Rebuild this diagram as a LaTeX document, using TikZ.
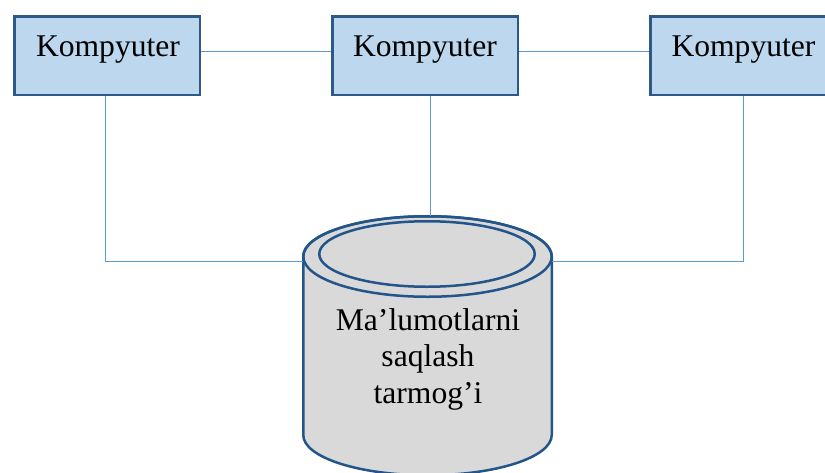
\documentclass[tikz,border=0pt]{standalone}
\usepackage{fontspec}
\setmainfont{Liberation Serif}
\definecolor{boxfill}{HTML}{BDD7EE}
\definecolor{boxline}{HTML}{2C5987}
\definecolor{canfill}{HTML}{D9D9D9}
\definecolor{canline}{HTML}{23558A}
\definecolor{wire}{HTML}{5B9BD5}
\tikzset{
  pcbox/.style={draw=boxline, fill=boxfill, line width=2.5pt, rectangle,
    minimum width=185.5pt, minimum height=78.5pt, inner sep=0pt},
  pclabel/.style={anchor=base, font=\fontsize{31.6pt}{36.5pt}\selectfont, inner sep=0pt},
  canedge/.style={draw=canline, line width=2.5pt},
  wireline/.style={draw=wire, line width=1pt}
}
\begin{document}
\begin{tikzpicture}[x=1pt, y=-1pt]
  \path[use as bounding box, clip] (0,0) rectangle (825,472);

  % computers
  \node[pcbox] (k1) at (107,55.5) {};
  \node[pcbox] (k2) at (425,55.5) {};
  \node[pcbox] (k3) at (743,55.5) {};
  \node[pclabel] (t1) at (108,56) {Kompyuter};
  \node[pclabel] (t2) at (425,56) {Kompyuter};
  \node[pclabel] (t3) at (743.5,56) {Kompyuter};

  % storage cylinder
  \path[fill=canfill, canedge] (303.25,256.5) -- (303.25,435)
    arc[start angle=180, end angle=360, x radius=124.25pt, y radius=40.25pt]
    -- (551.75,256.5)
    arc[start angle=0, end angle=180, x radius=124.25pt, y radius=40.25pt] -- cycle;
  \draw[canedge] (427.5,256.5) ellipse[x radius=124.25pt, y radius=40.25pt];
  \draw[canedge] (427,254) ellipse[x radius=107.75pt, y radius=32.75pt];
  \coordinate (dbl) at (303.25,261);
  \coordinate (dbr) at (551.75,261);
  \coordinate (dbt) at (430,216.25);
  % the base anchor of a multi-line node sits on its last line
  \node[pclabel, align=center] (db) at (428,403) {Ma’lumotlarni\\saqlash\\tarmog’i};

  % links
  \draw[wireline] ([yshift=4.5pt]k1.east) -- ([yshift=4.5pt]k2.west);
  \draw[wireline] ([yshift=4.5pt]k2.east) -- ([yshift=4.5pt]k3.west);
  \draw[wireline] ([xshift=-2pt]k1.south) |- (dbl);
  \draw[wireline] ([xshift=5pt]k2.south) -- (dbt);
  \draw[wireline] (k3.south) |- (dbr);
\end{tikzpicture}
\end{document}
